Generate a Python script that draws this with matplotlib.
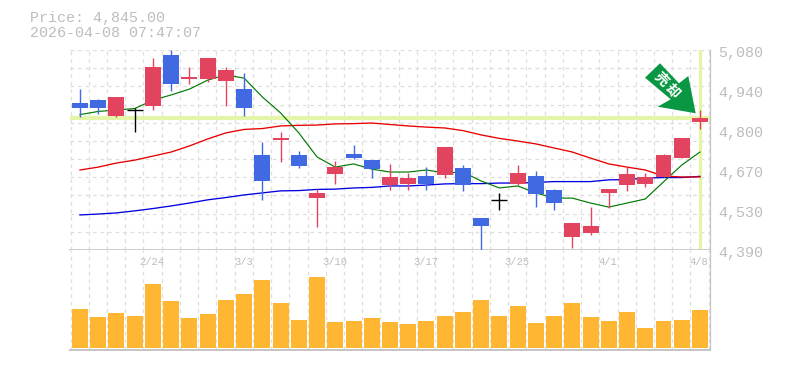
import numpy as np
import matplotlib
matplotlib.use("Agg")
import matplotlib.pyplot as plt
from matplotlib.patches import Polygon
from matplotlib.transforms import Affine2D

header_lines = ["Price: 4,845.00", "2026-04-08 07:47:07"]
price_labels = ["5,080", "4,940", "4,800", "4,670", "4,530", "4,390"]
price_label_values = [5080, 4942, 4804, 4666, 4528, 4390]
date_labels = ["2/24", "3/3", "3/10", "3/17", "3/25", "4/1", "4/8"]
date_label_idx = [4, 9, 14, 19, 24, 29, 34]
last_price = 4845

opens = [4897, 4907, 4852, 4872, 4887, 5063, 4980, 4980, 4973, 4945, 4718, 4770, 4718, 4569, 4652, 4721, 4700, 4614,
         4618, 4645, 4649, 4673, 4500, 4561, 4618, 4645, 4597, 4435, 4449, 4587, 4614, 4618, 4642, 4707, 4832]
highs = [4945, 4910, 4918, 4880, 5052, 5080, 5021, 5052, 5021, 5001, 4763, 4797, 4732, 4600, 4697, 4752, 4700, 4687,
         4656, 4676, 4745, 4683, 4500, 4587, 4683, 4663, 4600, 4483, 4538, 4600, 4676, 4656, 4721, 4776, 4873]
lows = [4849, 4859, 4849, 4797, 4873, 4939, 4963, 4970, 4887, 4852, 4563, 4694, 4673, 4469, 4618, 4704, 4638, 4597,
        4597, 4597, 4638, 4594, 4390, 4528, 4614, 4538, 4528, 4397, 4442, 4535, 4594, 4607, 4642, 4707, 4807]
closes = [4880, 4880, 4918, 4872, 5021, 4963, 4987, 5052, 5011, 4880, 4628, 4776, 4680, 4587, 4676, 4707, 4669, 4642,
          4638, 4618, 4745, 4614, 4473, 4561, 4656, 4583, 4552, 4483, 4473, 4600, 4652, 4642, 4718, 4776, 4845]
ma_short = [4857, 4868, 4873, 4878, 4907, 4925, 4945, 4976, 4994, 4983, 4918, 4863, 4794, 4711, 4676, 4687, 4669, 4659,
            4659, 4666, 4656, 4659, 4628, 4604, 4611, 4587, 4569, 4569, 4552, 4538, 4552, 4566, 4625, 4683, 4728]
ma_mid = [4666, 4676, 4690, 4700, 4714, 4728, 4749, 4773, 4794, 4806, 4809, 4818, 4820, 4821, 4825, 4826, 4828, 4823,
          4818, 4814, 4811, 4802, 4787, 4775, 4766, 4756, 4742, 4728, 4707, 4687, 4676, 4666, 4645, 4642, 4642]
ma_long = [4511, 4514, 4518, 4525, 4533, 4542, 4552, 4563, 4571, 4580, 4587, 4594, 4595, 4599, 4600, 4604, 4606, 4611,
           4611, 4614, 4618, 4619, 4619, 4621, 4621, 4623, 4626, 4626, 4626, 4632, 4633, 4638, 4640, 4640, 4644]
volumes = [39, 31, 35, 32, 64, 47, 30, 34, 48, 54, 68, 45, 28, 71, 26, 27, 30, 26,
           24, 27, 32, 36, 48, 32, 42, 25, 32, 45, 31, 27, 36, 20, 27, 28, 38]

W, H = 785, 370
RED, BLUE = "#E2435F", "#4169E1"
GRID, EDGE, TEXT = "#DEDEDE", "#C4C4C4", "#BDBDBD"
HILITE = "#E4F5A8"
MONO = "Liberation Mono"

fig = plt.figure(figsize=(W / 100, H / 100), dpi=100, facecolor="white")


def box(l, t, r, b):
    return [l / W, 1 - b / H, (r - l) / W, (b - t) / H]


ax = fig.add_axes(box(70, 50, 710, 250))
vax = fig.add_axes(box(70, 250, 710, 350), sharex=ax)
n = len(closes)
x = np.arange(n)
xlim = (-0.548, n - 1 + 0.55)
ax.set_xlim(*xlim)
ax.set_ylim(4390, 5080)
vax.set_ylim(-2, 98)

for a in (ax, vax):
    a.set_axisbelow(True)
    a.tick_params(length=0, labelbottom=False, labelleft=False)
    a.set_xticks(np.arange(-0.52, n, 1.0))
    a.grid(axis="x", color=GRID, lw=0.9, ls=(0, (3, 3)))
    for s in ("left", "top"):
        a.spines[s].set_visible(False)
    for s in ("right", "bottom"):
        a.spines[s].set_color(EDGE)
        a.spines[s].set_linewidth(0.9)
ax.set_yticks(np.linspace(4390, 5080, 12))
ax.grid(axis="y", color=GRID, lw=0.9, ls=(0, (3, 3)))
ax.spines["bottom"].set_linewidth(1.2)
vax.spines["bottom"].set_linewidth(1.4)
vax.set_yticks([])

ax.axhline(last_price, color=HILITE, lw=3.0, zorder=1.5)
ax.axvline(n - 1, ymin=0.0, ymax=0.995, color=HILITE, lw=2.4, zorder=1.5)

ax.plot(x, ma_long, color="#0000E0", lw=0.95, zorder=2)
ax.plot(x, ma_mid, color="#E80000", lw=0.95, zorder=2)
ax.plot(x, ma_short, color="#007A00", lw=0.85, zorder=2)

w = 0.877
for i in range(n):
    o, hi, lo, c = opens[i], highs[i], lows[i], closes[i]
    col = "#000000" if o == c else (RED if c > o else BLUE)
    ax.vlines(i, lo, hi, color=col, lw=1.0, zorder=3)
    if o == c:
        ax.hlines(c, i - w / 2, i + w / 2, color=col, lw=1.0, zorder=3)
    else:
        ax.bar(i, abs(c - o), bottom=min(o, c), width=w, color=col, lw=0, zorder=3)

vax.bar(x, volumes, width=w, color="#FFB733", lw=0, zorder=3)

px = Affine2D().scale(1, -1).translate(0, H)
arrow = [(660, 63.3), (645, 77.7), (670.7, 99.3), (657.7, 106.7), (695.7, 113.3), (688.3, 76), (679, 83.3)]
fig.add_artist(Polygon(arrow, closed=True, transform=px, facecolor="#0A9744", edgecolor="none", zorder=5))
fig.text(660.7 / W, 1 - 79.5 / H, "売", color="white", fontsize=10, fontweight="bold", rotation=-45,
         ha="center", va="center", family=["Noto Sans CJK JP", "DejaVu Sans"], zorder=6)
fig.text(672.5 / W, 1 - 91.5 / H, "却", color="white", fontsize=10, fontweight="bold", rotation=-45,
         ha="center", va="center", family=["Noto Sans CJK JP", "DejaVu Sans"], zorder=6)

for label, value in zip(price_labels, price_label_values):
    frac = (value - 4390) / (5080 - 4390)
    ypx = 250 - frac * 200 + 3.2
    fig.text(718.5 / W, 1 - ypx / H, label, color=TEXT, fontsize=10.8, family=MONO, ha="left", va="center")
for label, idx in zip(date_labels, date_label_idx):
    xpx = 80 + idx * 620 / 34
    fig.text((xpx - 0.7) / W, 1 - 262 / H, label, color=TEXT, fontsize=7.6, family=MONO, ha="center", va="center")
fig.text(30 / W, 1 - 18 / H, header_lines[0], color=TEXT, fontsize=10.8, family=MONO, ha="left", va="center")
fig.text(30 / W, 1 - 33 / H, header_lines[1], color=TEXT, fontsize=10.8, family=MONO, ha="left", va="center")

fig.savefig("out.png", dpi=100, facecolor="white")
